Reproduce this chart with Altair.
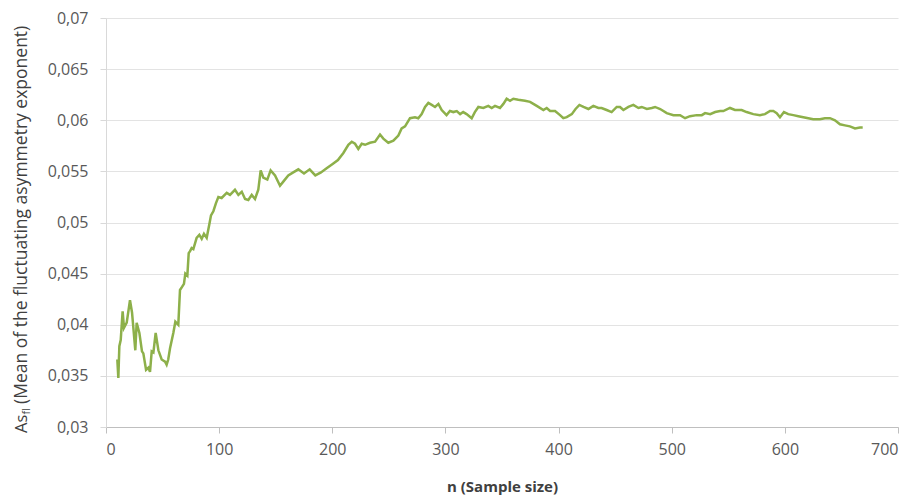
import altair as alt
import pandas as pd

n = [10, 10.9, 11.8, 13, 14.7, 15.9, 18.3, 21.2, 23, 25.9, 27.1, 29.5, 31.8, 33, 35.4, 37.5, 38.9,
     40.4, 41.9, 43.9, 46.3, 49.2, 52.2, 53.6, 55, 56.6, 59.5, 61.3, 63.9, 65.4, 67.2, 68.9, 70.1,
     71.9, 73.1, 74.3, 75.7, 77.2, 80.1, 82.5, 84.6, 86.6, 89, 91.3, 92.8, 94.9, 97.2, 99.3, 102.2,
     106.7, 109.6, 114, 117, 120, 122.9, 125.8, 128.8, 131.7, 134.6, 136.7, 139, 142.6, 145.5,
     149.4, 153.8, 156.7, 161.1, 165.5, 170, 175, 180, 185, 190, 195, 200, 205, 209.8, 214.2,
     217.2, 220.1, 223, 226, 229, 233.3, 237.8, 242.2, 245.1, 249.5, 254, 258.4, 261.3, 264.3,
     268.7, 273.1, 276, 279, 282, 284.9, 287.9, 290.8, 293.8, 296.7, 301, 304, 307, 310, 313,
     315.7, 318.7, 323.2, 326, 329.1, 333.5, 337.9, 340.9, 343.8, 348.2, 351.2, 354.1, 357.1, 360,
     364.4, 370.3, 374.8, 380.7, 386.6, 389.5, 392.5, 396.9, 401.3, 404.2, 407.2, 411.7, 415,
     418.4, 422, 426.4, 430.7, 435.2, 438, 442.5, 446.9, 451.4, 454.3, 457.3, 461.7, 466.1, 470.6,
     473.5, 478, 482.4, 485.3, 489.8, 495.6, 501.5, 507.4, 511.8, 516.2, 522.1, 526.6, 529.5, 534,
     538.4, 542.8, 545.6, 551.5, 555.9, 561.8, 566.2, 572.1, 578, 582.4, 586.9, 589.8, 592.8,
     595.7, 599.2, 603, 607.5, 611.9, 616.3, 620.7, 625.1, 631, 635.4, 639.9, 644.3, 648.7, 653.1,
     657.5, 662, 666.4, 668.8]

as_fl = [0.0366, 0.0348, 0.0379, 0.0385, 0.0413, 0.0397, 0.0402, 0.0424, 0.0412, 0.0375, 0.0402,
         0.0392, 0.0374, 0.0372, 0.0356, 0.0358, 0.0354, 0.0374, 0.0373, 0.0392, 0.0375, 0.0366,
         0.0364, 0.0361, 0.0366, 0.0377, 0.0392, 0.0403, 0.0400, 0.0434, 0.0437, 0.0440, 0.0450,
         0.0448, 0.0470, 0.0472, 0.0475, 0.0474, 0.0485, 0.0488, 0.0484, 0.0489, 0.0485, 0.0498,
         0.0507, 0.0511, 0.0519, 0.0525, 0.0524, 0.0529, 0.0527, 0.0532, 0.0527, 0.0530, 0.0523,
         0.0522, 0.0527, 0.0523, 0.0532, 0.0551, 0.0544, 0.0542, 0.0551, 0.0546, 0.0536, 0.0540,
         0.0546, 0.0549, 0.0552, 0.0548, 0.0552, 0.0546, 0.0549, 0.0553, 0.0557, 0.0561, 0.0568,
         0.0576, 0.0579, 0.0577, 0.0572, 0.0577, 0.0576, 0.0578, 0.0579, 0.0586, 0.0582, 0.0578,
         0.0580, 0.0585, 0.0592, 0.0594, 0.0602, 0.0603, 0.0602, 0.0606, 0.0613, 0.0617, 0.0615,
         0.0613, 0.0616, 0.0610, 0.0605, 0.0609, 0.0608, 0.0609, 0.0606, 0.0608, 0.0606, 0.0602,
         0.0608, 0.0613, 0.0612, 0.0614, 0.0612, 0.0614, 0.0612, 0.0616, 0.0621, 0.0619, 0.0621,
         0.0620, 0.0619, 0.0618, 0.0614, 0.0610, 0.0612, 0.0609, 0.0609, 0.0605, 0.0602, 0.0603,
         0.0606, 0.0611, 0.0615, 0.0613, 0.0611, 0.0614, 0.0612, 0.0612, 0.0610, 0.0608, 0.0613,
         0.0613, 0.0610, 0.0613, 0.0615, 0.0612, 0.0613, 0.0611, 0.0612, 0.0613, 0.0611, 0.0607,
         0.0605, 0.0605, 0.0602, 0.0604, 0.0605, 0.0605, 0.0607, 0.0606, 0.0608, 0.0609, 0.0609,
         0.0612, 0.0610, 0.0610, 0.0608, 0.0606, 0.0605, 0.0606, 0.0609, 0.0609, 0.0607, 0.0603,
         0.0608, 0.0606, 0.0605, 0.0604, 0.0603, 0.0602, 0.0601, 0.0601, 0.0602, 0.0602, 0.0600,
         0.0596, 0.0595, 0.0594, 0.0592, 0.0593, 0.0593]

x_ticks = [0, 100, 200, 300, 400, 500, 600, 700]
y_ticks = [0.03, 0.035, 0.04, 0.045, 0.05, 0.055, 0.06, 0.065, 0.07]

x_title = "n (Sample size)"
y_title_main = "As"
y_title_sub = "fl"
y_title_rest = "(Mean of the fluctuating asymmetry exponent)"

df = pd.DataFrame({"n": n, "as_fl": as_fl})

FONT = "Open Sans"

line = alt.Chart(df).mark_line(color="#8db04a", strokeWidth=2.5).encode(
    x=alt.X("n:Q",
            scale=alt.Scale(domain=[0, 700], nice=False, zero=False),
            axis=alt.Axis(values=x_ticks, title=x_title, grid=False,
                          domainColor="#bfbfbf", tickColor="#bfbfbf", tickSize=6,
                          labelPadding=8, titlePadding=22, format="d")),
    y=alt.Y("as_fl:Q",
            scale=alt.Scale(domain=[0.03, 0.07], nice=False, zero=False),
            axis=alt.Axis(values=y_ticks, title=None, grid=True, gridColor="#e3e3e3",
                          domainColor="#d9d9d9", tickColor="#d9d9d9", tickSize=6,
                          labelPadding=12,
                          labelExpr="replace(format(datum.value, '.3~f'), '.', ',')")),
)

one = alt.Data(values=[{"k": 0}])

t_main = alt.Chart(one).mark_text(
    text=y_title_main, angle=270, align="left", baseline="middle",
    font=FONT, fontSize=16.5, color="#404040"
).encode(x=alt.value(-84), y=alt.value(415))

t_sub = alt.Chart(one).mark_text(
    text=y_title_sub, angle=270, align="left", baseline="middle",
    font=FONT, fontSize=10.5, color="#404040"
).encode(x=alt.value(-79), y=alt.value(396.5))

t_rest = alt.Chart(one).mark_text(
    text=y_title_rest, angle=270, align="left", baseline="middle",
    font=FONT, fontSize=17.5, color="#404040"
).encode(x=alt.value(-84), y=alt.value(386))

chart = alt.layer(line, t_main, t_sub, t_rest).properties(
    width=792, height=409,
    autosize=alt.AutoSizeParams(type="none"),
    padding={"left": 98, "top": 10, "right": 12, "bottom": 74},
).configure_view(stroke=None).configure_axis(
    labelFont=FONT, labelFontSize=16, labelColor="#595959",
    titleFont=FONT, titleFontSize=15, titleFontWeight="bold", titleColor="#404040",
)

chart.save("out.html", embed_options={"renderer": "svg", "actions": False})
